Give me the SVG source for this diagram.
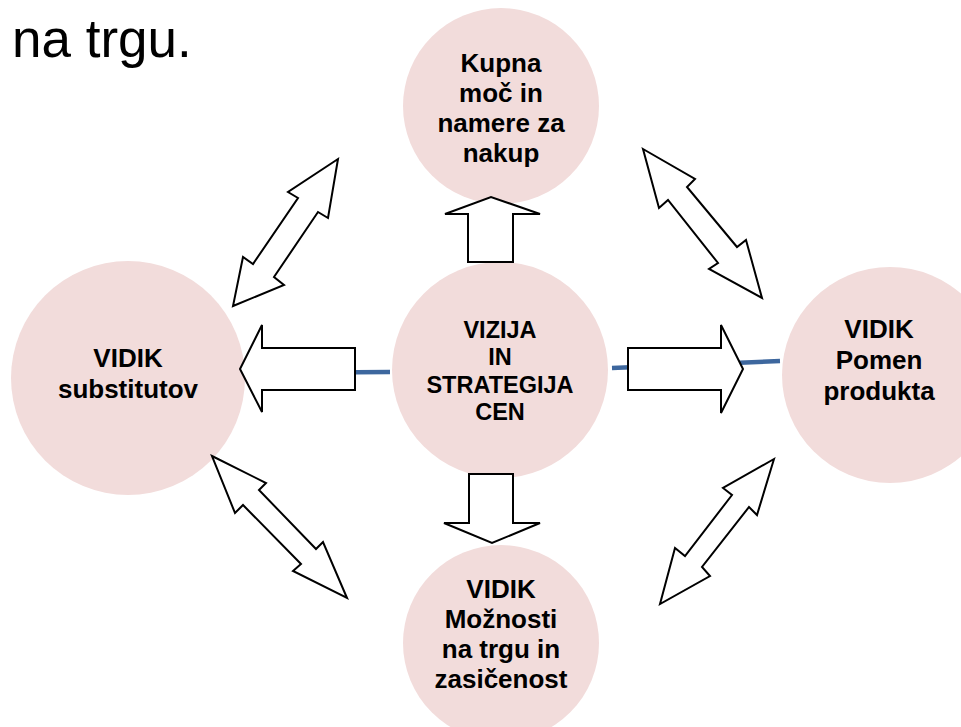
<svg xmlns="http://www.w3.org/2000/svg" width="961" height="727" viewBox="0 0 961 727">
  <style>
    .bg { fill: #ffffff; }
    .node circle { fill: #f2dcdb; stroke: none; }
    .node text { font-family: "Liberation Sans", Arial, sans-serif; font-weight: bold; font-size: 26px; fill: #000000; text-anchor: middle; }
    #center text { font-size: 23.5px; }
    .title { font-family: "Liberation Sans", Arial, sans-serif; font-size: 53px; fill: #000000; }
    .link { stroke: #3d679e; stroke-width: 4.5; fill: none; }
    .block { fill: #ffffff; stroke: #000000; stroke-width: 2; stroke-linejoin: miter; }
  </style>

  <rect class="bg" x="0" y="0" width="961" height="727"/>

  <text class="title" x="12" y="57">na trgu.</text>

  <!-- nodes -->
  <g id="top" class="node">
    <circle cx="501" cy="106" r="98"/>
    <text x="501" y="72">Kupna</text>
    <text x="501" y="102">moč in</text>
    <text x="501" y="132">namere za</text>
    <text x="501" y="162">nakup</text>
  </g>

  <g id="center" class="node">
    <circle cx="500" cy="370" r="108"/>
    <text x="500" y="338">VIZIJA</text>
    <text x="500" y="365">IN</text>
    <text x="500" y="393">STRATEGIJA</text>
    <text x="500" y="420">CEN</text>
  </g>

  <g id="left" class="node">
    <circle cx="128" cy="378" r="117"/>
    <text x="128" y="367">VIDIK</text>
    <text x="128" y="398">substitutov</text>
  </g>

  <g id="right" class="node">
    <circle cx="890" cy="375" r="108"/>
    <text x="879" y="338">VIDIK</text>
    <text x="879" y="369">Pomen</text>
    <text x="879" y="400">produkta</text>
  </g>

  <g id="bottom" class="node">
    <circle cx="501" cy="643" r="98"/>
    <text x="501" y="598">VIDIK</text>
    <text x="501" y="628">Možnosti</text>
    <text x="501" y="658">na trgu in</text>
    <text x="501" y="688">zasičenost</text>
  </g>

  <!-- connectors -->
  <g id="connectors">
    <line class="link" x1="248" y1="373" x2="390" y2="372"/>
    <line class="link" x1="612" y1="368" x2="780" y2="361"/>

    <!-- single block arrows from the centre -->
    <polygon class="block" points="468,262 468,214 445,214 491,197 540,214 513,214 513,262"/>
    <polygon class="block" points="469,474 513,474 513,523 540,523 492,543 444,523 469,523"/>
    <polygon class="block" points="355,348 262,348 262,325 240,369 262,412 262,390 355,390"/>
    <polygon class="block" points="628,348 721,348 721,325 743,369 721,413 721,390 628,390"/>

    <!-- double block arrows between the outer views -->
    <polygon class="block" points="338,159 328,218 318,212 274,277 284,285 233,306 243,257 253,264 298,198 288,192"/>
    <polygon class="block" points="643,149 695,179 687,187 737,247 746,240 762,298 709,269 718,263 668,200 659,208"/>
    <polygon class="block" points="212,456 266,483 259,490 316,549 323,542 347,598 293,571 301,564 243,505 235,513"/>
    <polygon class="block" points="774,459 757,515 749,507 702,567 710,576 660,604 675,548 685,556 732,495 723,488"/>
  </g>
</svg>
